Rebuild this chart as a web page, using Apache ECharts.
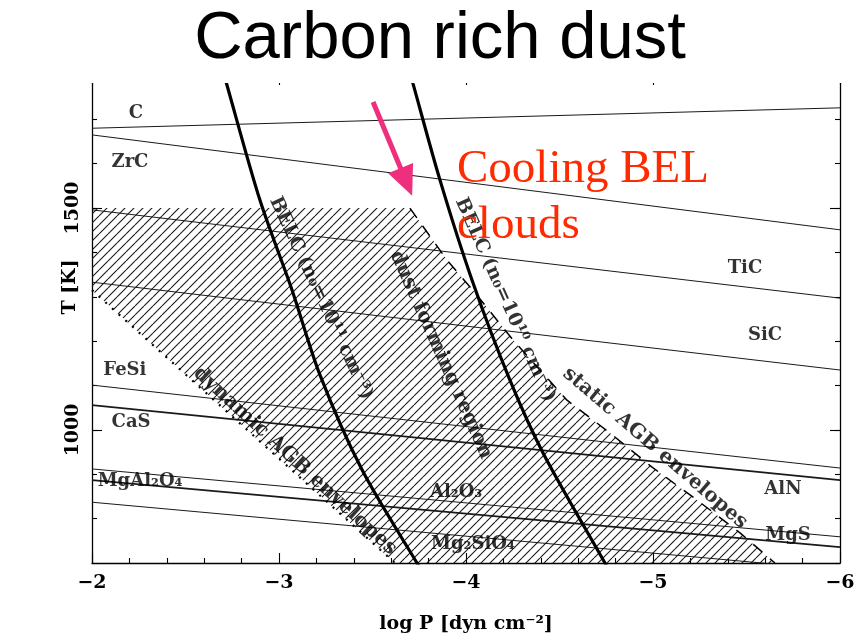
<!DOCTYPE html>
<html>
<head>
<meta charset="utf-8">
<script src="https://cdn.jsdelivr.net/npm/echarts@6/dist/echarts.min.js"></script>
<style>
  html, body { margin: 0; padding: 0; background: #fff; }
  #chart { width: 864px; height: 637px; }
</style>
</head>
<body>
<div id="chart"></div>
<script>
// ---- axis ranges and labelled ticks ----
const xRange = [-6, -2];          // log P [dyn cm^-2], drawn decreasing to the right
const yRange = [700, 1800];       // T [K]
const yLabelTicks = [1000, 1500];

// ---- condensation temperature lines: [log P, T] ----
const lineC       = [[-2, 1680], [-6, 1726]];
const lineZrC     = [[-2, 1665], [-6, 1451]];
const lineTiC     = [[-2, 1496], [-6, 1297]];
const lineSiC     = [[-2, 1333], [-6, 1135]];
const lineFeSi    = [[-2, 1101], [-6, 914]];
const lineCaS     = [[-2, 1056], [-6, 887]];
const lineAl2O3   = [[-2, 912], [-6, 759]];
const lineMgAl2O4 = [[-2, 887], [-6, 736]];
const lineMg2SiO4 = [[-2, 837], [-6, 684]];

// ---- BEL cloud tracks ----
const belc11 = [[-2.708, 1800], [-2.722, 1777], [-2.898, 1518], [-3.070, 1315],
                [-3.219, 1124], [-3.444, 910], [-3.738, 700], [-3.77, 680]];
const belc10 = [[-3.704, 1800], [-3.717, 1780], [-3.861, 1563], [-4.032, 1338], [-4.235, 1112],
                [-4.412, 948], [-4.743, 700], [-4.77, 680]];

// ---- envelope boundaries of the dust forming region ----
const staticAGB  = [[-3.70, 1500], [-3.898, 1383], [-4.048, 1309], [-4.251, 1203], [-4.540, 1067],
                    [-4.770, 993], [-4.995, 916], [-5.235, 842], [-5.465, 768], [-5.652, 700]];
const dynamicAGB = [[-2, 1315], [-3.620, 700]];
const regionTop  = [[-2, 1500], [-3.70, 1500]];

// ---- arrow pointing at the cooling clouds ----
const arrowFrom = [-3.503, 1739];
const arrowTo   = [-3.681, 1559];

// ---- text labels placed in the plot ----
const labelTexts = ['C', 'ZrC', 'TiC', 'SiC', 'FeSi', 'CaS', 'MgAl₂O₄', 'Al₂O₃', 'Mg₂SiO₄', 'AlN', 'MgS',
                    'BELC (n₀=10¹¹ cm⁻³)', 'BELC (n₀=10¹⁰ cm⁻³)', 'dust forming region',
                    'dynamic AGB envelopes', 'static AGB envelopes'];
const labelPos = [[-2.235, 1714], [-2.203, 1604], [-5.492, 1365], [-5.599, 1214], [-2.176, 1135],
                  [-2.209, 1016], [-2.257, 885], [-3.947, 860], [-4.037, 741], [-5.695, 865],
                  [-5.722, 763], [-3.225, 1297], [-4.209, 1293], [-3.866, 1169], [-3.086, 930],
                  [-5.011, 959]];
const labelRot  = [0, 0, 0, 0, 0, 0, 0, 0, 0, 0, 0, -65, -66, -66, -42.5, -40.7];
const labelSize = [18, 18, 18, 18, 18, 18, 18, 18, 18, 18, 18, 19, 19, 20, 20, 20];

const SERIF = '"DejaVu Serif", serif';

// diagonal hatch tile
function hatchTile() {
  const s = 9;
  const c = document.createElement('canvas');
  c.width = s; c.height = s;
  const g = c.getContext('2d');
  g.strokeStyle = '#1a1a1a';
  g.lineWidth = 1.1;
  g.beginPath();
  for (const k of [-s, 0, s]) { g.moveTo(k, s); g.lineTo(k + s, 0); }
  g.stroke();
  return c;
}
const hatch = hatchTile();
const hatchPoly = regionTop.concat(staticAGB.slice(1), dynamicAGB.slice().reverse());

function condLine(data, w) {
  return {
    type: 'line', data: data, showSymbol: false, symbol: 'none', silent: true, z: 3,
    lineStyle: { color: '#1a1a1a', width: w || 1 }
  };
}

const chart = echarts.init(document.getElementById('chart'), null, { renderer: 'canvas' });

const baseX = {
  type: 'value', min: xRange[0], max: xRange[1], interval: 1, inverse: true,
  axisLine: { show: true, onZero: false, lineStyle: { color: '#000', width: 1.3 } },
  axisTick: { show: true, inside: true, length: 10, lineStyle: { color: '#000', width: 1.1 } },
  minorTick: { show: true, splitNumber: 5, length: 5, lineStyle: { color: '#000', width: 1.1 } },
  splitLine: { show: false }, minorSplitLine: { show: false }
};
const baseY = {
  type: 'value', min: yRange[0], max: yRange[1], interval: 100,
  axisLine: { show: true, onZero: false, lineStyle: { color: '#000', width: 1.3 } },
  axisTick: { show: true, inside: true, length: 5, lineStyle: { color: '#000', width: 1.1 } },
  splitLine: { show: false }
};
const majorY = {
  type: 'value', min: yRange[0], max: yRange[1], interval: 100,
  axisLine: { show: false },
  axisTick: { show: true, inside: true, length: 10, customValues: yLabelTicks, lineStyle: { color: '#000', width: 1.1 } },
  axisLabel: { show: false },
  splitLine: { show: false }
};

const option = {
  animation: false,
  backgroundColor: '#fff',
  grid: { left: 92, right: 24, top: 75, bottom: 74, containLabel: false, outerBoundsMode: 'none' },
  xAxis: [
    Object.assign({}, baseX, {
      position: 'bottom',
      axisLabel: {
        color: '#000', fontFamily: SERIF, fontSize: 19, fontWeight: 'bold', margin: 11,
        formatter: v => (v < 0 ? '\u2212' : '') + Math.abs(v)
      },
      name: 'log P [dyn cm⁻²]', nameLocation: 'middle', nameGap: 52,
      nameTextStyle: { color: '#000', fontFamily: SERIF, fontSize: 19, fontWeight: 'bold' }
    }),
    Object.assign({}, baseX, { position: 'top', axisLabel: { show: false } })
  ],
  yAxis: [
    Object.assign({}, baseY, {
      position: 'left',
      axisLabel: {
        color: '#000', fontFamily: SERIF, fontSize: 19, fontWeight: 'bold', rotate: 90, margin: 9,
        formatter: v => (yLabelTicks.indexOf(v) >= 0 ? String(v) : '')
      }
    }),
    Object.assign({}, majorY, { position: 'left' }),
    Object.assign({}, baseY, { position: 'right', axisLabel: { show: false } }),
    Object.assign({}, majorY, { position: 'right' })
  ],
  series: [
    {
      type: 'custom', coordinateSystem: 'cartesian2d', data: [[-3, 1000]], silent: true, z: 1, clip: true,
      renderItem: function (params, api) {
        return {
          type: 'polygon',
          shape: { points: hatchPoly.map(p => api.coord(p)) },
          style: { fill: { image: hatch, repeat: 'repeat' }, stroke: null }
        };
      }
    },
    condLine(lineC), condLine(lineZrC), condLine(lineTiC), condLine(lineSiC),
    condLine(lineFeSi), condLine(lineCaS, 1.8), condLine(lineAl2O3), condLine(lineMgAl2O4, 1.8),
    condLine(lineMg2SiO4),
    {
      type: 'line', data: staticAGB, showSymbol: false, symbol: 'none', silent: true, z: 3,
      lineStyle: { color: '#000', width: 1.5, type: [12, 10] }
    },
    {
      type: 'line', data: dynamicAGB, showSymbol: false, symbol: 'none', silent: true, z: 3,
      lineStyle: { color: '#000', width: 2.2, type: [2, 7] }
    },
    {
      type: 'line', data: belc11, smooth: 0.3, showSymbol: false, symbol: 'none', silent: true, z: 4,
      lineStyle: { color: '#000', width: 3.2 },
      markLine: {
        silent: true, animation: false,
        symbol: ['none', 'triangle'], symbolSize: [27, 30],
        label: { show: false },
        lineStyle: { color: '#ee2f7d', width: 5, type: 'solid' },
        data: [[{ coord: arrowFrom }, { coord: arrowTo }]]
      }
    },
    {
      type: 'line', data: belc10, smooth: 0.3, showSymbol: false, symbol: 'none', silent: true, z: 4,
      lineStyle: { color: '#000', width: 3.2 }
    },
    {
      type: 'scatter', symbolSize: 0, silent: true, z: 5,
      data: labelTexts.map((t, i) => ({
        value: labelPos[i], name: t,
        label: { rotate: labelRot[i], fontSize: labelSize[i] }
      })),
      label: {
        show: true, position: 'inside', formatter: p => p.name,
        color: '#000', fontFamily: SERIF, fontWeight: 'bold', fontSize: 18, align: 'center', verticalAlign: 'middle'
      }
    }
  ],
  graphic: [
    { type: 'rect', z: 100, shape: { x: 0, y: 0, width: 864, height: 83 }, style: { fill: '#fff' } },
    { type: 'text', z: 101, x: 440, y: 40,
      style: { text: 'Carbon rich dust', font: '67px "Liberation Sans", Arial, sans-serif', fill: '#000', align: 'center', verticalAlign: 'middle' } },
    { type: 'text', z: 101, x: 457, y: 193,
      style: { text: 'Cooling BEL', font: '47px "Liberation Serif", "Times New Roman", serif', fill: '#ff2a00', align: 'left', verticalAlign: 'bottom' } },
    { type: 'text', z: 101, x: 457, y: 249,
      style: { text: 'clouds', font: '47px "Liberation Serif", "Times New Roman", serif', fill: '#ff2a00', align: 'left', verticalAlign: 'bottom' } },
    { type: 'text', z: 101, x: 70, y: 287, rotation: Math.PI / 2,
      style: { text: 'T [K]', font: 'bold 19px ' + SERIF, fill: '#000', align: 'center', verticalAlign: 'middle' } }
  ]
};
chart.setOption(option);
</script>
</body>
</html>
